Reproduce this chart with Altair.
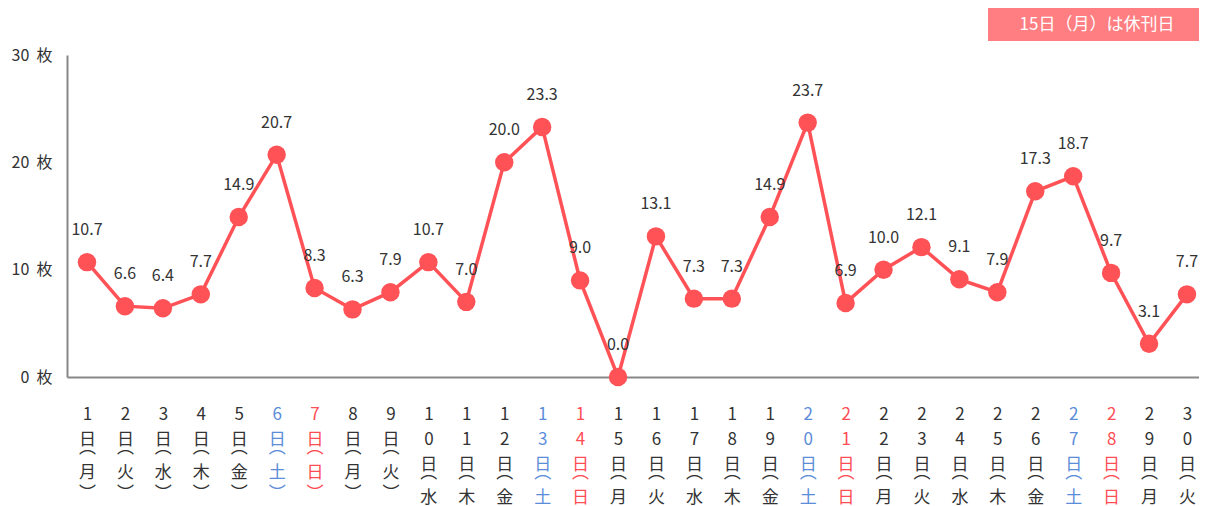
import json
import altair as alt
import pandas as pd

days = list(range(1, 31))
weekdays = ["月", "火", "水", "木", "金", "土", "日",
            "月", "火", "水", "木", "金", "土", "日",
            "月", "火", "水", "木", "金", "土", "日",
            "月", "火", "水", "木", "金", "土", "日",
            "月", "火"]
values = [10.7, 6.6, 6.4, 7.7, 14.9, 20.7, 8.3, 6.3, 7.9, 10.7,
          7.0, 20.0, 23.3, 9.0, 0.0, 13.1, 7.3, 7.3, 14.9, 23.7,
          6.9, 10.0, 12.1, 9.1, 7.9, 17.3, 18.7, 9.7, 3.1, 7.7]
y_ticks = [0, 10, 20, 30]
note_text = "15日（月）は休刊日"

FONT = "Noto Sans CJK JP"
LINE_RED = "#FF5257"
TEXT = "#333333"
SAT_BLUE = "#5B8DD9"
SUN_RED = "#FF4D55"
BLANK = "\u200b"

df = pd.DataFrame({"day": days, "wd": weekdays, "value": values})
df["label"] = df["value"].map(lambda v: f"{v:.1f}")


def vertical_label(d, w):
    lines = []
    for ch in str(d):
        lines += [ch] + [BLANK] * 5
    lines += ["日", BLANK, "︵"] + [BLANK] * 5 + [w] + [BLANK] * 4 + ["︶"]
    return lines


label_arrays = [vertical_label(d, w) for d, w in zip(days, weekdays)]
label_expr = json.dumps(label_arrays, ensure_ascii=False) + "[datum.value - 1]"

sat_days = [d for d, w in zip(days, weekdays) if w == "土"]
sun_days = [d for d, w in zip(days, weekdays) if w == "日"]
sat_test = " || ".join(f"datum.value == {d}" for d in sat_days)
sun_test = " || ".join(f"datum.value == {d}" for d in sun_days)
color_expr = f"({sat_test}) ? '{SAT_BLUE}' : (({sun_test}) ? '{SUN_RED}' : '{TEXT}')"

x_axis = alt.Axis(
    values=days, title=None, grid=False, ticks=False, tickSize=0,
    labelExpr=label_expr, labelColor={"expr": color_expr},
    labelFont=FONT, labelFontSize=17, labelLineHeight=4.1667,
    labelBaseline="top", labelPadding=29, labelAngle=0,
    labelOverlap=False, labelBound=False, labelFlush=False,
    labelLimit=0,
    domainColor="#888888", domainWidth=2,
)
y_axis = alt.Axis(
    values=y_ticks, title=None, grid=False, ticks=False, tickSize=0,
    labelExpr="datum.value + '\u00a0 枚'", labelFont=FONT, labelFontSize=16,
    labelColor=TEXT, labelPadding=15,
    domainColor="#888888", domainWidth=2,
)
x_scale = alt.Scale(domain=[0.4727, 30.317], nice=False, zero=False)
y_scale = alt.Scale(domain=[0, 30], nice=False)


def xe():
    return alt.X("day:Q", scale=x_scale, axis=x_axis)


def ye():
    return alt.Y("value:Q", scale=y_scale, axis=y_axis)


base = alt.Chart(df)
line = base.mark_line(color=LINE_RED, strokeWidth=3.5).encode(x=xe(), y=ye())
points = base.mark_circle(color=LINE_RED, size=340, opacity=1).encode(x=xe(), y=ye())
labels = base.mark_text(font=FONT, fontSize=16, color=TEXT, dy=-32).encode(
    x=xe(), y=ye(), text="label:N"
)

note_df = pd.DataFrame({"note": [note_text]})
note_box = alt.Chart(note_df).mark_rect(color="#FF7E82").encode(
    x=alt.value(921), x2=alt.value(1132), y=alt.value(-47), y2=alt.value(-14)
)
note_label = alt.Chart(note_df).mark_text(
    font=FONT, fontSize=17, color="white", align="center", baseline="middle"
).encode(x=alt.value(1030), y=alt.value(-30), text="note:N")

chart = (
    alt.layer(line, points, labels, note_box, note_label)
    .properties(
        width=1132, height=322,
        autosize=alt.AutoSizeParams(type="none"),
        padding={"left": 59, "top": 47, "right": 0, "bottom": 129},
    )
    .configure_view(stroke=None)
    .configure_axis(labelOverlap=False)
)

chart.save("out.html", embed_options={"renderer": "svg", "actions": False})
